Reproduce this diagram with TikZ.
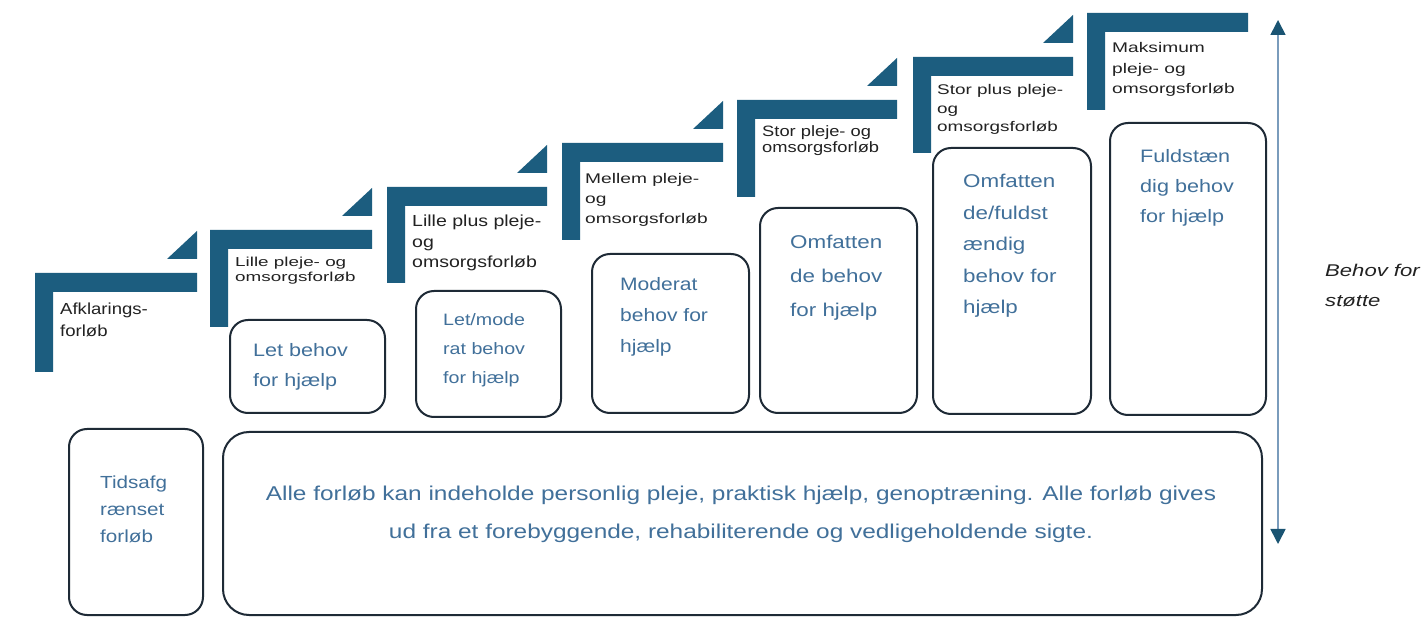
\documentclass[tikz,border=0pt]{standalone}
\usepackage{fontspec}
\setmainfont{Liberation Sans}
\usepackage{graphicx}
\usetikzlibrary{arrows.meta}
\definecolor{stepc}{HTML}{1C5D7F}
\definecolor{boxline}{HTML}{1E2A36}
\definecolor{boxtxt}{HTML}{41709A}
\definecolor{arrline}{HTML}{7A9CBC}
\definecolor{arrhead}{HTML}{1A5472}
\definecolor{labtxt}{HTML}{222222}
% #1 x-scale, #2 font size, #3 leading, #4 alignment, #5 lines
\newcommand\stx[5]{\scalebox{#1}[1]{\fontsize{#2}{#3}\selectfont\begin{tabular}[t]{@{}#4@{}}#5\end{tabular}}}
% L-shaped stair: a (left x), t (top y), r (right x), b (bottom y)
\newcommand\stairL[4]{\fill[stepc] (#1,#2) -- (#3,#2) -- (#3,#2+19) -- (#1+18,#2+19) -- (#1+18,#4) -- (#1,#4) -- cycle;}
% small triangle above the end of a stair: r, t
\newcommand\stairT[2]{\fill[stepc] (#1-30,#2-14) -- (#1,#2-42) -- (#1,#2-14) -- cycle;}
\tikzset{
  rbox/.style={draw=boxline, line width=2pt, rounded corners=18pt, inner sep=0pt, anchor=north west},
  lab/.style={anchor=base west, inner sep=0pt, text=labtxt},
  btxt/.style={anchor=base west, inner sep=0pt, text=boxtxt},
}
\begin{document}
\begin{tikzpicture}[x=1pt, y=-1pt]
\useasboundingbox (0,0) rectangle (1428,617);
\fill[white] (0,0) rectangle (1428,617);

% stairs
\stairL{35}{273}{197}{372}
\stairT{197}{273}
\stairL{210}{230}{372}{327}
\stairT{372}{230}
\stairL{387}{187}{547}{283}
\stairT{547}{187}
\stairL{562}{143}{723}{240}
\stairT{723}{143}
\stairL{737}{100}{897}{197}
\stairT{897}{100}
\stairL{913}{57}{1073}{153}
\stairT{1073}{57}
\stairL{1087}{13}{1248}{110}

% stair labels
\node[lab] (l1) at (60,315) {\stx{1.16}{16}{22}{l}{Afklarings-\\forløb}};
\node[lab] (l2) at (235,267) {\stx{1.45}{13}{15}{l}{Lille pleje- og\\omsorgsforløb}};
\node[lab] (l3) at (412,227) {\stx{1.22}{16}{20.5}{l}{Lille plus pleje-\\og\\omsorgsforløb}};
\node[lab] (l4) at (585,184) {\stx{1.37}{14}{20}{l}{Mellem pleje-\\og\\omsorgsforløb}};
\node[lab] (l5) at (762,137) {\stx{1.22}{15}{16}{l}{Stor pleje- og\\omsorgsforløb}};
\node[lab] (l6) at (937,95) {\stx{1.35}{14}{18.5}{l}{Stor plus pleje-\\og\\omsorgsforløb}};
\node[lab] (l7) at (1112,53) {\stx{1.37}{14}{20.5}{l}{Maksimum\\pleje- og\\omsorgsforløb}};

% boxes
\node[rbox, minimum width=155pt, minimum height=93pt] (b1) at (229,319) {};
\node[rbox, minimum width=145pt, minimum height=126pt] (b2) at (415,290) {};
\node[rbox, minimum width=157pt, minimum height=159pt] (b3) at (591,253) {};
\node[rbox, minimum width=157pt, minimum height=205pt] (b4) at (759,207) {};
\node[rbox, minimum width=158pt, minimum height=266pt] (b5) at (932,147) {};
\node[rbox, minimum width=156pt, minimum height=292pt] (b6) at (1109,122) {};
\node[rbox, minimum width=134pt, minimum height=186pt] (b0) at (68,428) {};
\node[rbox, rounded corners=26pt, minimum width=1039pt, minimum height=183pt] (bb) at (222,431) {};

% box texts
\node[btxt] (t1) at (253,357) {\stx{1.2}{18}{30}{l}{Let behov\\for hjælp}};
\node[btxt] (t2) at (443,326) {\stx{1.19}{16.5}{29}{l}{Let/mode\\rat behov\\for hjælp}};
\node[btxt] (t3) at (620,291) {\stx{1.17}{18}{31}{l}{Moderat\\behov for\\hjælp}};
\node[btxt] (t4) at (790,249) {\stx{1.21}{18.5}{34}{l}{Omfatten\\de behov\\for hjælp}};
\node[btxt] (t5) at (963,188) {\stx{1.21}{18.5}{31.5}{l}{Omfatten\\de/fuldst\\ændig\\behov for\\hjælp}};
\node[btxt] (t6) at (1140,163) {\stx{1.2}{18}{30}{l}{Fuldstæn\\dig behov\\for hjælp}};
\node[btxt] (t0) at (100,489) {\stx{1.18}{17.5}{27}{l}{Tidsafg\\rænset\\forløb}};
\node[anchor=base, inner sep=0pt, text=boxtxt] (tm) at (741,501) {\stx{1.22}{20}{38}{c}{Alle forløb kan indeholde personlig pleje, praktisk hjælp, genoptræning. Alle forløb gives\\ud fra et forebyggende, rehabiliterende og vedligeholdende sigte.}};

% axis arrow
\coordinate (atop) at (1278,20);
\coordinate (abot) at (1278,544);
\draw[arrline, line width=1.6pt, {Triangle[width=15pt,length=15pt,color=arrhead]}-{Triangle[width=15pt,length=15pt,color=arrhead]}] (abot) -- (atop);
\node[lab, font=\itshape] (ax) at (1325,277) {\stx{1.3}{17}{30}{l}{Behov for\\støtte}};
\end{tikzpicture}
\end{document}
